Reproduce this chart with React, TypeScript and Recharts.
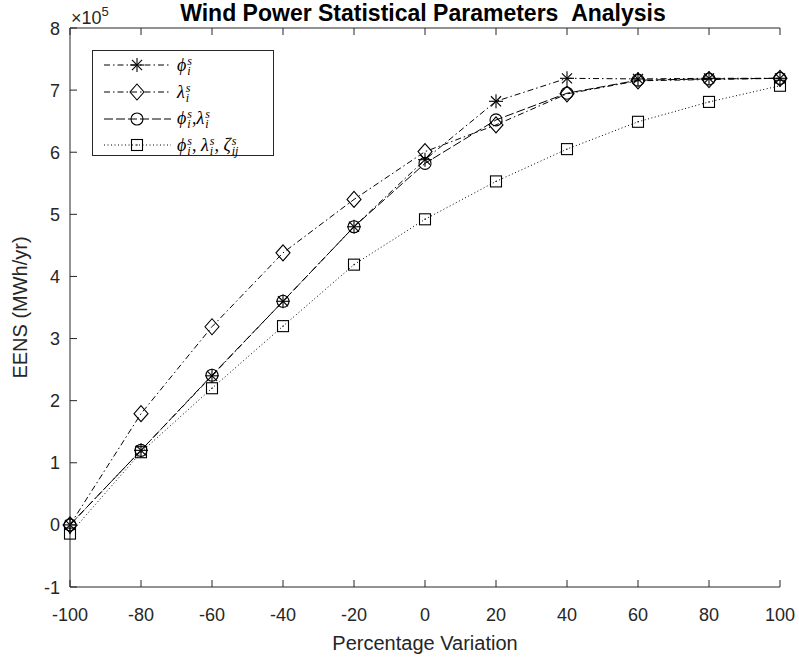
import { Legend, Line, LineChart, ReferenceLine, XAxis, YAxis } from 'recharts';

// Percentage variation of the wind statistical parameters
const percentVariation = [-100, -80, -60, -40, -20, 0, 20, 40, 60, 80, 100];
// EENS in units of 1e5 MWh/yr
const eensPhi = [0, 1.2, 2.4, 3.6, 4.8, 5.88, 6.82, 7.19, 7.18, 7.19, 7.19];
const eensLambda = [0, 1.79, 3.19, 4.38, 5.24, 6.01, 6.44, 6.94, 7.15, 7.17, 7.19];
const eensPhiLambda = [0, 1.2, 2.41, 3.6, 4.8, 5.82, 6.52, 6.95, 7.16, 7.18, 7.19];
const eensAll = [-0.14, 1.17, 2.2, 3.2, 4.19, 4.92, 5.53, 6.05, 6.49, 6.81, 7.07];

const xTicks = [-100, -80, -60, -40, -20, 0, 20, 40, 60, 80, 100];
const yTicks = [-1, 0, 1, 2, 3, 4, 5, 6, 7, 8];

// legend: [symbol, subscript] terms, and the separator between them
const legendTerms = [
  [['ϕ', 'i']],
  [['λ', 'i']],
  [['ϕ', 'i'], ['λ', 'i']],
  [['ϕ', 'i'], ['λ', 'i'], ['ζ', 'ij']],
];
const legendSeparators = ['', '', ',', ', '];

const AXIS = '#262626';
const FONT = '"Liberation Sans", Arial, Helvetica, sans-serif';
const PLOT_H = 559; // height of the plot box, for the mirrored top ticks

const data = percentVariation.map((pct, i) => ({
  pct,
  phi: eensPhi[i],
  lambda: eensLambda[i],
  phiLambda: eensPhiLambda[i],
  all: eensAll[i],
}));

const series = [
  { key: 'phi', shape: 'star', dash: '6 3 1.5 3' },
  { key: 'lambda', shape: 'diamond', dash: '6 3 1.5 3' },
  { key: 'phiLambda', shape: 'circle', dash: '9 3' },
  { key: 'all', shape: 'square', dash: '1 2.5' },
];

function Marker({ shape, cx, cy }: { shape: string; cx: number; cy: number }) {
  const s = { stroke: '#000', strokeWidth: 1.1, fill: 'none' };
  if (shape === 'star') {
    const r = 7;
    const d = r * 0.72;
    return (
      <g {...s}>
        <line x1={cx - r} y1={cy} x2={cx + r} y2={cy} />
        <line x1={cx} y1={cy - r} x2={cx} y2={cy + r} />
        <line x1={cx - d} y1={cy - d} x2={cx + d} y2={cy + d} />
        <line x1={cx - d} y1={cy + d} x2={cx + d} y2={cy - d} />
      </g>
    );
  }
  if (shape === 'diamond') {
    return <polygon {...s} points={`${cx},${cy - 8} ${cx + 7},${cy} ${cx},${cy + 8} ${cx - 7},${cy}`} />;
  }
  if (shape === 'circle') {
    return <circle {...s} cx={cx} cy={cy} r={6} />;
  }
  return (
    <g>
      <rect {...s} x={cx - 5.5} y={cy - 5.5} width={11} height={11} />
      <circle cx={cx} cy={cy} r={0.7} fill="#000" />
    </g>
  );
}

const dotFor = (shape: string) => (props: any) => {
  if (props.cx == null || props.cy == null) return <g key={`${shape}-${props.index}`} />;
  return (
    <g key={`${shape}-${props.index}`}>
      <Marker shape={shape} cx={props.cx} cy={props.cy} />
    </g>
  );
};

// bottom tick: inward tick, label, and the mirrored tick on the top edge of the box
const BottomTick = ({ x, y, payload }: any) => (
  <g>
    <line x1={x} x2={x} y1={y} y2={y - 7} stroke={AXIS} />
    <line x1={x} x2={x} y1={y - PLOT_H} y2={y - PLOT_H + 7} stroke={AXIS} />
    <text x={x} y={y + 34} textAnchor="middle" fontSize={18} fill={AXIS} fontFamily={FONT}>
      {payload.value}
    </text>
  </g>
);

const LeftTick = ({ x, y, payload }: any) => (
  <g>
    <line x1={x} x2={x + 7} y1={y} y2={y} stroke={AXIS} />
    <text x={x - 10} y={y + 6.5} textAnchor="end" fontSize={18} fill={AXIS} fontFamily={FONT}>
      {payload.value}
    </text>
  </g>
);

const RightTick = ({ x, y }: any) => <line x1={x} x2={x - 7} y1={y} y2={y} stroke={AXIS} />;

function MathTerm({ base, sub }: { base: string; sub: string }) {
  return (
    <span style={{ fontStyle: 'italic' }}>
      {base}
      <span
        style={{
          display: 'inline-flex',
          flexDirection: 'column',
          fontSize: 12,
          lineHeight: '10px',
          verticalAlign: '6px',
          marginLeft: 1,
        }}
      >
        <span>s</span>
        <span>{sub}</span>
      </span>
    </span>
  );
}

function LegendBox() {
  return (
    <div
      style={{
        width: 182,
        height: 106,
        border: `1px solid ${AXIS}`,
        background: '#fff',
        boxSizing: 'border-box',
        paddingTop: 1,
      }}
    >
      {series.map((s, i) => (
        <div key={s.key} style={{ height: 26.7, display: 'flex', alignItems: 'center' }}>
          <svg width={84} height={26} style={{ flex: 'none' }}>
            <line x1={11} x2={78} y1={13} y2={13} stroke="#000" strokeWidth={1} strokeDasharray={s.dash} />
            <Marker shape={s.shape} cx={44} cy={13} />
          </svg>
          <span style={{ fontFamily: '"Liberation Serif", "DejaVu Serif", serif', fontSize: 18, lineHeight: '20px', color: '#000', whiteSpace: 'nowrap' }}>
            {legendTerms[i].map((t, j) => (
              <span key={j}>
                {j > 0 ? legendSeparators[i] : ''}
                <MathTerm base={t[0]} sub={t[1]} />
              </span>
            ))}
          </span>
        </div>
      ))}
    </div>
  );
}

export default function App() {
  return (
    <div style={{ position: 'absolute', left: 0, top: 0, background: '#fff' }}>
      <LineChart width={799} height={662} data={data} margin={{ top: 28, right: 19, bottom: 0, left: 0 }} style={{ fontFamily: FONT }}>
        <XAxis
          dataKey="pct"
          type="number"
          domain={[-100, 100]}
          ticks={xTicks}
          height={75}
          tickSize={0}
          tickMargin={0}
          tickLine={false}
          axisLine={{ stroke: AXIS }}
          tick={<BottomTick />}
          label={{
            content: ({ viewBox }: any) => (
              <text x={viewBox.x + viewBox.width / 2} y={viewBox.y + 63} textAnchor="middle" fontSize={20} fill={AXIS} fontFamily={FONT}>
                Percentage Variation
              </text>
            ),
          }}
        />
        <YAxis
          type="number"
          domain={[-1, 8]}
          ticks={yTicks}
          width={70}
          tickSize={0}
          tickMargin={0}
          tickLine={false}
          axisLine={{ stroke: AXIS }}
          tick={<LeftTick />}
          label={{
            content: ({ viewBox }: any) => {
              const cx = 20;
              const cy = viewBox.y + viewBox.height / 2;
              const plotLeft = viewBox.x + viewBox.width;
              return (
                <g fontFamily={FONT}>
                  <text x={cx} y={cy} transform={`rotate(-90 ${cx} ${cy})`} textAnchor="middle" dominantBaseline="central" fontSize={20} fill={AXIS}>
                    EENS (MWh/yr)
                  </text>
                  <text x={423} y={21} textAnchor="middle" fontSize={23} fontWeight="bold" fill="#000">
                    Wind Power Statistical Parameters{'\u00a0\u00a0'}Analysis
                  </text>
                  <text x={plotLeft + 1} y={viewBox.y - 4} fontSize={18} fill={AXIS}>
                    ×10
                    <tspan fontSize={13} dy={-8}>5</tspan>
                  </text>
                </g>
              );
            },
          }}
        />
        <YAxis
          yAxisId="right"
          orientation="right"
          type="number"
          domain={[-1, 8]}
          ticks={yTicks}
          width={0}
          tickSize={0}
          tickMargin={0}
          tickLine={false}
          axisLine={{ stroke: AXIS }}
          tick={<RightTick />}
        />
        <ReferenceLine y={8} stroke={AXIS} strokeWidth={1.2} />
        <Legend
          layout="horizontal"
          verticalAlign="middle"
          align="center"
          wrapperStyle={{ left: 92, top: 50, width: 182, height: 106 }}
          content={() => <LegendBox />}
        />
        {series.map((s) => (
          <Line
            key={s.key}
            dataKey={s.key}
            type="linear"
            stroke="#000"
            strokeWidth={1}
            strokeDasharray={s.dash}
            dot={dotFor(s.shape)}
            activeDot={false}
            isAnimationActive={false}
          />
        ))}
      </LineChart>
    </div>
  );
}
